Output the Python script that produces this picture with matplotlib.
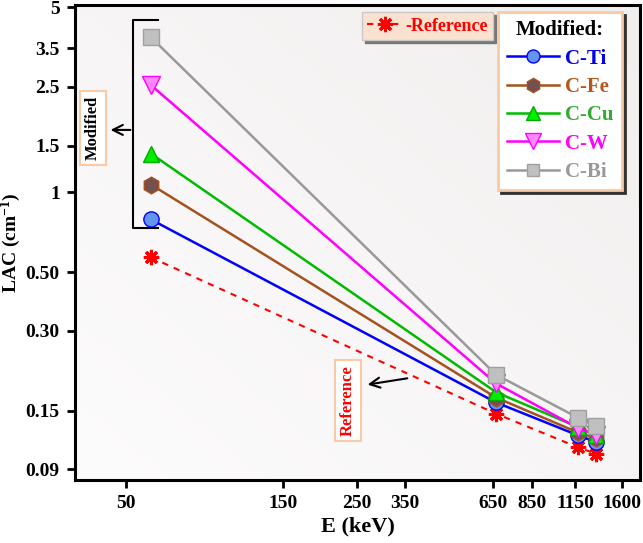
import numpy as np
import matplotlib.pyplot as plt
from matplotlib.colors import LinearSegmentedColormap

plt.rcParams['font.family'] = ['Liberation Serif', 'DejaVu Serif']
plt.rcParams['font.weight'] = 'bold'
plt.rcParams['mathtext.fontset'] = 'custom'
plt.rcParams['mathtext.rm'] = 'Liberation Serif:bold'
plt.rcParams['mathtext.bf'] = 'Liberation Serif:bold'
plt.rcParams['mathtext.default'] = 'bf'

energy = [59.5, 662, 1173, 1332]
ref = [0.568, 0.146, 0.109, 0.103]
c_ti = [0.79, 0.161, 0.121, 0.114]
c_fe = [1.07, 0.168, 0.124, 0.118]
c_cu = [1.40, 0.176, 0.130, 0.121]
c_w = [2.54, 0.190, 0.129, 0.121]
c_bi = [3.85, 0.205, 0.141, 0.131]

xticks = [50, 150, 250, 350, 650, 850, 1150, 1600]
yticks = [0.09, 0.15, 0.30, 0.50, 1, 1.5, 2.5, 3.5, 5]
ylabels = ['0.09', '0.15', '0.30', '0.50', '1', '1.5', '2.5', '3.5', '5']

fig = plt.figure(figsize=(6.43, 5.43), dpi=100)
ax = fig.add_axes([0.1166, 0.116, 0.8787, 0.8748])

# soft background gradient
bg = LinearSegmentedColormap.from_list('bg', ['#fdfcfc', '#f1eeee'])
grad = np.linspace(0, 1, 256).reshape(1, -1) + np.linspace(0, 1, 256).reshape(-1, 1)
ax.imshow(grad, cmap=bg, extent=[0, 1, 0, 1], transform=ax.transAxes,
          aspect='auto', zorder=0, origin='lower')

ax.set_xscale('log')
ax.set_yscale('log')

h_ref, = ax.plot(energy, ref, ls=(0, (3, 3)), color='red', lw=1.5,
                 marker=(8, 2, 0), ms=11, mew=2.2, mec='red', zorder=3)
series = [
    ('C-Ti', c_ti, '#0000ff', 'o', '#6495ed', '#0000ff', 11, '#0000ee'),
    ('C-Fe', c_fe, '#a5521e', 'h', '#76504e', '#a5521e', 12, '#b5561c'),
    ('C-Cu', c_cu, '#00bb00', '^', '#00ee00', '#00aa00', 12, '#33aa33'),
    ('C-W', c_w, '#ff00ff', 'v', '#ff88ff', '#ff00ff', 13, '#ff00ff'),
    ('C-Bi', c_bi, '#999999', 's', '#c0c0c0', '#a0a0a0', 11, '#999999'),
]
handles = []
for name, vals, lc, mk, fc, ec, ms, tc in series:
    h, = ax.plot(energy, vals, color=lc, lw=1.8, marker=mk, ms=ms,
                 mfc=fc, mec=ec, mew=1, zorder=4)
    handles.append(h)

ax.set_xlim(35, 1810)
ax.set_ylim(0.082, 5.1)
ax.set_xticks(xticks)
ax.set_xticklabels([str(t) for t in xticks])
ax.set_yticks(yticks)
ax.set_yticklabels(ylabels)
ax.minorticks_off()
ax.tick_params(labelsize=14, width=2, length=6, direction='out', pad=5)
for s in ax.spines.values():
    s.set_linewidth(2.2)
ax.set_xlabel('E (keV)', fontsize=16, fontweight='bold', labelpad=3)
ax.set_ylabel('LAC (cm$^{-1}$)', fontsize=14, fontweight='bold', labelpad=2)

# legends
leg1 = ax.legend([h_ref], ['-Reference'], loc='upper left',
                 bbox_to_anchor=(0.508, 0.985), prop={'size': 13, 'weight': 'bold'},
                 handlelength=2.0, handletextpad=0.1, fancybox=False,
                 facecolor='#fbe2d0', edgecolor='#c8c8c8', framealpha=1,
                 shadow={'color': '#777777', 'alpha': 1}, borderpad=0.3,
                 borderaxespad=0)
for t in leg1.get_texts():
    t.set_color('red')
ax.add_artist(leg1)

leg2 = ax.legend(handles, [s[0] for s in series], loc='upper right',
                 bbox_to_anchor=(0.968, 0.985), title='Modified:',
                 title_fontproperties={'size': 15, 'weight': 'bold'},
                 prop={'size': 15, 'weight': 'bold'}, handlelength=2.5,
                 handletextpad=0.3, labelspacing=0.4, fancybox=False,
                 facecolor='white', edgecolor='#f8cba4', framealpha=1,
                 shadow={'color': '#333333', 'alpha': 1}, borderpad=0.4,
                 markerscale=0.85, borderaxespad=0)
leg2.get_frame().set_linewidth(2)
for t, s in zip(leg2.get_texts(), series):
    t.set_color(s[7])

# bracket for modified series
ax.plot([0.147, 0.103, 0.103, 0.147], [0.968, 0.968, 0.531, 0.531],
        transform=ax.transAxes, color='black', lw=1.5, zorder=5)
ax.annotate('', xy=(0.058, 0.737), xytext=(0.103, 0.737),
            xycoords='axes fraction',
            arrowprops=dict(arrowstyle='->', color='black', lw=1.5,
                            mutation_scale=18))
ax.text(0.032, 0.741, 'Modified', transform=ax.transAxes, rotation=90,
        ha='center', va='center', fontsize=12, fontweight='bold',
        bbox=dict(boxstyle='square,pad=0.3', fc='white', ec='#f8cba4', lw=1.5))

ax.annotate('', xy=(0.513, 0.2), xytext=(0.593, 0.215),
            xycoords='axes fraction',
            arrowprops=dict(arrowstyle='->', color='black', lw=1.5,
                            mutation_scale=18))
ax.text(0.483, 0.168, 'Reference', transform=ax.transAxes, rotation=90,
        ha='center', va='center', fontsize=12, fontweight='bold', color='red',
        bbox=dict(boxstyle='square,pad=0.3', fc='white', ec='#f8cba4', lw=1.5))

fig.savefig('out.png', dpi=100)
